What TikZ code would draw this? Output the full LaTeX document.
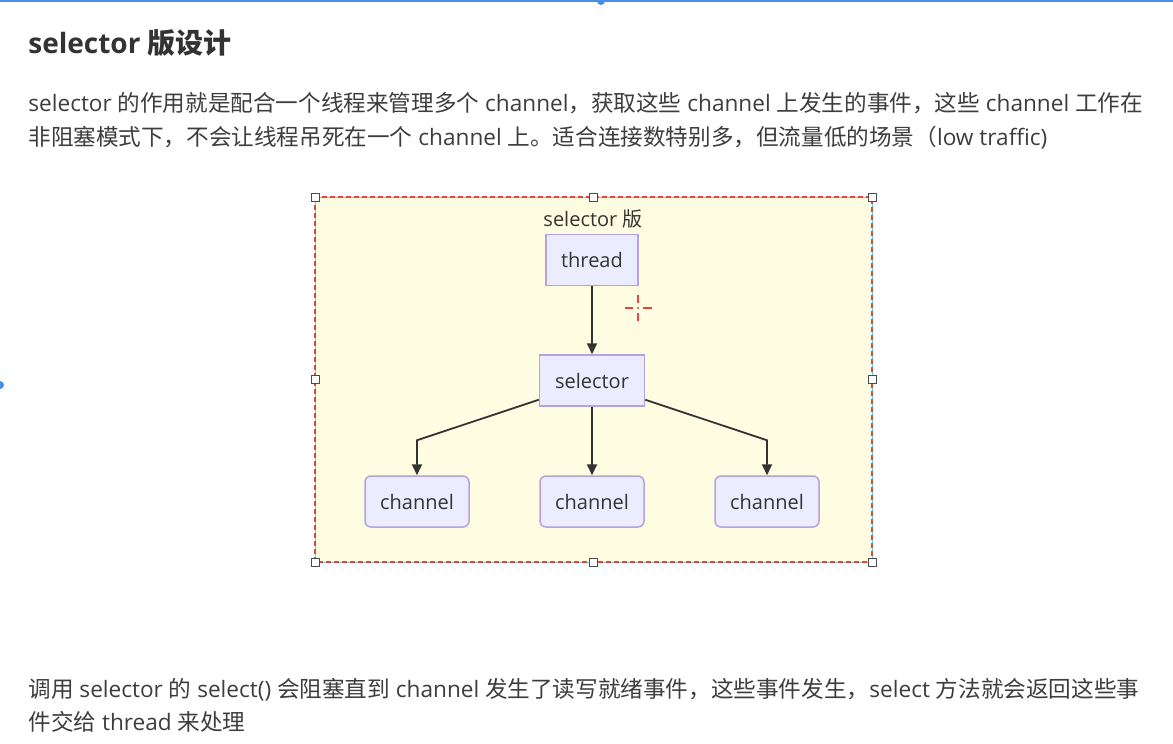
\documentclass[tikz,border=0pt]{standalone}
\usepackage{fontspec}
\setmainfont{Open Sans}
\newfontfamily\cjkfont{Noto Sans CJK SC}
\usetikzlibrary{positioning, arrows.meta}
\newcommand{\zh}[1]{{\cjkfont #1}}

\definecolor{ink}{HTML}{333333}
\definecolor{bodyink}{HTML}{3D3D3D}
\definecolor{nodefill}{HTML}{ECECFF}
\definecolor{nodeline}{HTML}{B3A2E4}
\definecolor{boxfill}{HTML}{FFFDE1}
\definecolor{boxline}{HTML}{E2453C}
\definecolor{selblue}{HTML}{4A8FE7}

\tikzset{
    para/.style={anchor=base west, inner sep=0pt, text=bodyink, font=\fontsize{22.6}{34}\selectfont},
    proc/.style={draw=nodeline, fill=nodefill, line width=1.5pt, text=ink,
        font=\fontsize{20}{24}\selectfont, minimum height=51pt, inner sep=0pt},
    chan/.style={proc, rounded corners=6pt, minimum width=104pt},
    handle/.style={draw=black!70, fill=white, line width=1pt, minimum size=8pt, inner sep=0pt},
}

\begin{document}
\begin{tikzpicture}[x=1pt, y=-1pt, >={Triangle[width=10pt,length=11pt]}, thick]
    \useasboundingbox[fill=white] (0,0) rectangle (1173,744);

    % editor selection line
    \draw[selblue, line width=2pt] (0,0.5) -- (1173,0.5);
    \fill[selblue] (601,1) circle (4pt);
    \fill[selblue] (0,385) circle (4pt);

    % text
    \node[para, text=ink, font=\fontsize{28}{34}\selectfont\bfseries] (title) at (28,53) {selector \zh{版设计}};
    \node[para] (intro1) at (28,111) {selector \zh{的作用就是配合一个线程来管理多个} channel\zh{，获取这些} channel \zh{上发生的事件，这些} channel \zh{工作在}};
    \node[para] (intro2) at (28,145) {\zh{非阻塞模式下，不会让线程吊死在一个} channel \zh{上。适合连接数特别多，但流量低的场景（}low traffic)};
    \node[para] (note1) at (28,697) {\zh{调用} selector \zh{的} select() \zh{会阻塞直到} channel \zh{发生了读写就绪事件，这些事件发生，}select \zh{方法就会返回这些事}};
    \node[para] (note2) at (28,730) {\zh{件交给} thread \zh{来处理}};

    % group box
    \fill[boxfill] (315,197) rectangle (872,562);
    \draw[cyan!60, line width=1pt] (315,197) rectangle (872,562);
    \draw[boxline, line width=1.3pt, dash pattern=on 5pt off 3pt] (315,197) rectangle (872,562);
    \node[text=ink, font=\fontsize{20}{24}\selectfont] (grptitle) at (593,219) {selector \zh{版}};

    \node[proc, minimum width=92pt] (thread) at (592,260) {thread};
    \node[proc, minimum width=105pt] (sel) at (592,380.5) {selector};
    \node[chan] (chL) at (417,501.5) {channel};
    \node[chan] (chM) at (592,501.5) {channel};
    \node[chan] (chR) at (767,501.5) {channel};

    \draw[->, ink, line width=1.8pt] (thread.south) -- (sel.north);
    \draw[->, ink, line width=1.8pt] ([yshift=7pt]sel.south west) -- ([yshift=35pt]chL.north) -- (chL.north);
    \draw[->, ink, line width=1.8pt] (sel.south) -- (chM.north);
    \draw[->, ink, line width=1.8pt] ([yshift=7pt]sel.south east) -- ([yshift=35pt]chR.north) -- (chR.north);

    % handles
    \foreach \hx/\hy in {315/197, 593.5/197, 872/197, 315/379.5, 872/379.5, 315/562, 593.5/562, 872/562}
        \node[handle] at (\hx,\hy) {};

    % cursor
    \begin{scope}[boxline, line width=2pt]
        \draw (625,308) -- (633,308) (643,308) -- (652,308);
        \draw (638,295) -- (638,303) (638,313) -- (638,321);
        \fill (638,308) circle (1.2pt);
    \end{scope}
\end{tikzpicture}
\end{document}
